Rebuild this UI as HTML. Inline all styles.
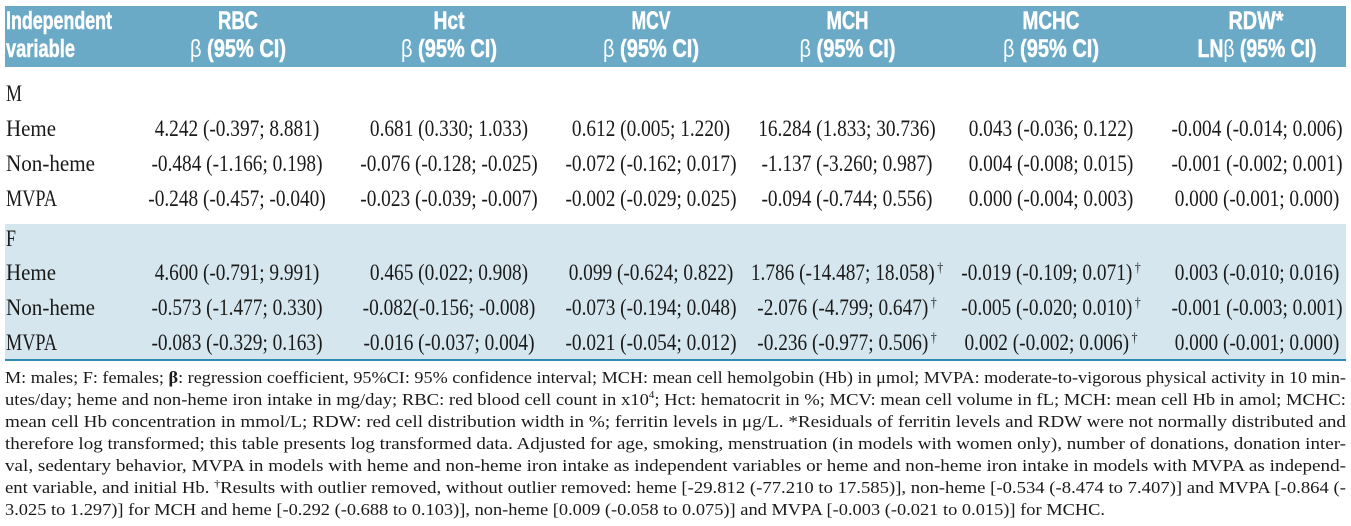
<!DOCTYPE html>
<html>
<head>
<meta charset="utf-8">
<style>
  html, body { margin: 0; padding: 0; background: #fff; }
  body { width: 1351px; height: 526px; overflow: hidden; }
  svg { display: block; }
  .hd { font-family: "Liberation Sans", "DejaVu Sans", sans-serif; font-weight: bold; font-size: 25px; fill: #ffffff; stroke: #ffffff; stroke-width: 0.5px; }
  .bd { font-family: "Liberation Serif", "DejaVu Serif", serif; font-size: 23px; fill: #1a1a1a; }
  .fn { font-family: "Liberation Serif", "DejaVu Serif", serif; font-size: 17px; fill: #1a1a1a; }
</style>
</head>
<body>
<svg width="1351" height="526" viewBox="0 0 1351 526" xmlns="http://www.w3.org/2000/svg">
  <rect x="0" y="0" width="1351" height="526" fill="#ffffff"/>
  <!-- header band -->
  <rect x="5" y="6" width="1341" height="61" fill="#6aaac6"/>
  <!-- F band -->
  <rect x="5" y="224" width="1341" height="135" fill="#d5e6ee"/>
  <rect x="5" y="359" width="1341" height="2" fill="#2e8cb2"/>

  <!-- header text -->
  <g class="hd">
    <text x="6" y="29" textLength="106" lengthAdjust="spacingAndGlyphs">Independent</text>
    <text x="6" y="57" textLength="69" lengthAdjust="spacingAndGlyphs">variable</text>

    <text x="218" y="29" textLength="40" lengthAdjust="spacingAndGlyphs">RBC</text>
    <text x="190" y="57" textLength="96" lengthAdjust="spacingAndGlyphs"><tspan font-weight="normal" stroke-width="0">β</tspan> (95% CI)</text>

    <text x="433.5" y="29" textLength="31" lengthAdjust="spacingAndGlyphs">Hct</text>
    <text x="401" y="57" textLength="96" lengthAdjust="spacingAndGlyphs"><tspan font-weight="normal" stroke-width="0">β</tspan> (95% CI)</text>

    <text x="631.5" y="29" textLength="39" lengthAdjust="spacingAndGlyphs">MCV</text>
    <text x="603" y="57" textLength="96" lengthAdjust="spacingAndGlyphs"><tspan font-weight="normal" stroke-width="0">β</tspan> (95% CI)</text>

    <text x="826.5" y="29" textLength="42" lengthAdjust="spacingAndGlyphs">MCH</text>
    <text x="799.5" y="57" textLength="96" lengthAdjust="spacingAndGlyphs"><tspan font-weight="normal" stroke-width="0">β</tspan> (95% CI)</text>

    <text x="1022.5" y="29" textLength="57" lengthAdjust="spacingAndGlyphs">MCHC</text>
    <text x="1003" y="57" textLength="96" lengthAdjust="spacingAndGlyphs"><tspan font-weight="normal" stroke-width="0">β</tspan> (95% CI)</text>

    <text x="1228.5" y="29" textLength="55" lengthAdjust="spacingAndGlyphs">RDW*</text>
    <text x="1197.5" y="57" textLength="119" lengthAdjust="spacingAndGlyphs">LN<tspan font-weight="normal" stroke-width="0">β</tspan> (95% CI)</text>
  </g>

  <!-- row labels -->
  <g class="bd">
    <text x="6" y="101" textLength="16" lengthAdjust="spacingAndGlyphs">M</text>
    <text x="6" y="136" textLength="50" lengthAdjust="spacingAndGlyphs">Heme</text>
    <text x="6" y="171" textLength="89" lengthAdjust="spacingAndGlyphs">Non-heme</text>
    <text x="6" y="206" textLength="51" lengthAdjust="spacingAndGlyphs">MVPA</text>

    <text x="6" y="246" textLength="10" lengthAdjust="spacingAndGlyphs">F</text>
    <text x="6" y="280" textLength="50" lengthAdjust="spacingAndGlyphs">Heme</text>
    <text x="6" y="315" textLength="89" lengthAdjust="spacingAndGlyphs">Non-heme</text>
    <text x="6" y="350" textLength="51" lengthAdjust="spacingAndGlyphs">MVPA</text>
  </g>

  <!-- values (condensed) -->
  <g class="bd" transform="scale(0.84,1)" text-anchor="middle">
    <!-- M Heme -->
    <text x="282.14" y="136">4.242 (-0.397; 8.881)</text>
    <text x="534.52" y="136">0.681 (0.330; 1.033)</text>
    <text x="775" y="136">0.612 (0.005; 1.220)</text>
    <text x="1008.33" y="136">16.284 (1.833; 30.736)</text>
    <text x="1251.19" y="136">0.043 (-0.036; 0.122)</text>
    <text x="1496.43" y="136">-0.004 (-0.014; 0.006)</text>
    <!-- M Non-heme -->
    <text x="282.14" y="171">-0.484 (-1.166; 0.198)</text>
    <text x="534.52" y="171">-0.076 (-0.128; -0.025)</text>
    <text x="775" y="171">-0.072 (-0.162; 0.017)</text>
    <text x="1008.33" y="171">-1.137 (-3.260; 0.987)</text>
    <text x="1251.19" y="171">0.004 (-0.008; 0.015)</text>
    <text x="1496.43" y="171">-0.001 (-0.002; 0.001)</text>
    <!-- M MVPA -->
    <text x="282.14" y="206">-0.248 (-0.457; -0.040)</text>
    <text x="534.52" y="206">-0.023 (-0.039; -0.007)</text>
    <text x="775" y="206">-0.002 (-0.029; 0.025)</text>
    <text x="1008.33" y="206">-0.094 (-0.744; 0.556)</text>
    <text x="1251.19" y="206">0.000 (-0.004; 0.003)</text>
    <text x="1496.43" y="206">0.000 (-0.001; 0.000)</text>
    <!-- F Heme -->
    <text x="282.14" y="280">4.600 (-0.791; 9.991)</text>
    <text x="534.52" y="280">0.465 (0.022; 0.908)</text>
    <text x="775" y="280">0.099 (-0.624; 0.822)</text>
    <text x="1008.33" y="280">1.786 (-14.487; 18.058)<tspan font-size="14" dx="3" dy="-8">†</tspan></text>
    <text x="1251.19" y="280">-0.019 (-0.109; 0.071)<tspan font-size="14" dx="3" dy="-8">†</tspan></text>
    <text x="1496.43" y="280">0.003 (-0.010; 0.016)</text>
    <!-- F Non-heme -->
    <text x="282.14" y="315">-0.573 (-1.477; 0.330)</text>
    <text x="534.52" y="315">-0.082(-0.156; -0.008)</text>
    <text x="775" y="315">-0.073 (-0.194; 0.048)</text>
    <text x="1008.33" y="315">-2.076 (-4.799; 0.647)<tspan font-size="14" dx="3" dy="-8">†</tspan></text>
    <text x="1251.19" y="315">-0.005 (-0.020; 0.010)<tspan font-size="14" dx="3" dy="-8">†</tspan></text>
    <text x="1496.43" y="315">-0.001 (-0.003; 0.001)</text>
    <!-- F MVPA -->
    <text x="282.14" y="350">-0.083 (-0.329; 0.163)</text>
    <text x="534.52" y="350">-0.016 (-0.037; 0.004)</text>
    <text x="775" y="350">-0.021 (-0.054; 0.012)</text>
    <text x="1008.33" y="350">-0.236 (-0.977; 0.506)<tspan font-size="14" dx="3" dy="-8">†</tspan></text>
    <text x="1251.19" y="350">0.002 (-0.002; 0.006)<tspan font-size="14" dx="3" dy="-8">†</tspan></text>
    <text x="1496.43" y="350">0.000 (-0.001; 0.000)</text>
  </g>

  <!-- footnote -->
  <g class="fn">
    <text x="5" y="383" textLength="1341" lengthAdjust="spacingAndGlyphs">M: males; F: females; <tspan font-weight="bold">β</tspan>: regression coefficient, 95%CI: 95% confidence interval; MCH: mean cell hemolgobin (Hb) in μmol; MVPA: moderate-to-vigorous physical activity in 10 min-</text>
    <text x="5" y="405" textLength="1341" lengthAdjust="spacingAndGlyphs">utes/day; heme and non-heme iron intake in mg/day; RBC: red blood cell count in x10<tspan font-size="10" dy="-7">4</tspan><tspan dy="7">; Hct: hematocrit in %; MCV: mean cell volume in fL; MCH: mean cell Hb in amol; MCHC:</tspan></text>
    <text x="5" y="427" textLength="1341" lengthAdjust="spacingAndGlyphs">mean cell Hb concentration in mmol/L; RDW: red cell distribution width in %; ferritin levels in μg/L. *Residuals of ferritin levels and RDW were not normally distributed and</text>
    <text x="5" y="449" textLength="1341" lengthAdjust="spacingAndGlyphs">therefore log transformed; this table presents log transformed data. Adjusted for age, smoking, menstruation (in models with women only), number of donations, donation inter-</text>
    <text x="5" y="471" textLength="1341" lengthAdjust="spacingAndGlyphs">val, sedentary behavior, MVPA in models with heme and non-heme iron intake as independent variables or heme and non-heme iron intake in models with MVPA as independ-</text>
    <text x="5" y="493" textLength="1341" lengthAdjust="spacingAndGlyphs">ent variable, and initial Hb. <tspan font-size="11" dy="-6">†</tspan><tspan dy="6">Results with outlier removed, without outlier removed: heme [-29.812 (-77.210 to 17.585)], non-heme [-0.534 (-8.474 to 7.407)] and MVPA [-0.864 (-</tspan></text>
    <text x="5" y="515" textLength="1100" lengthAdjust="spacingAndGlyphs">3.025 to 1.297)] for MCH and heme [-0.292 (-0.688 to 0.103)], non-heme [0.009 (-0.058 to 0.075)] and MVPA [-0.003 (-0.021 to 0.015)] for MCHC.</text>
  </g>
</svg>
</body>
</html>
